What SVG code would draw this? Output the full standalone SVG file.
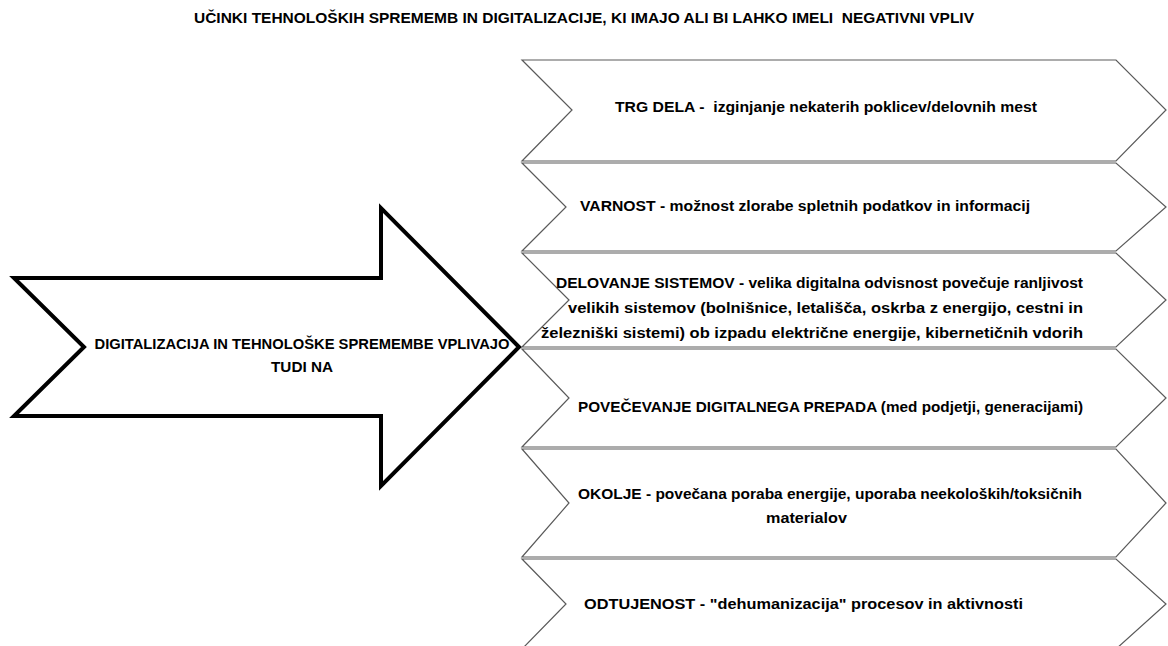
<svg xmlns="http://www.w3.org/2000/svg" width="1168" height="646" viewBox="0 0 1168 646">
<style>
  text { font-family: "Liberation Sans", Arial, sans-serif; font-weight: bold; font-size: 14px; fill: #000; white-space: pre; }
  .chev { fill: #fff; stroke: #5a5a5a; stroke-width: 1.2; stroke-linejoin: miter; }
  .big { fill: #fff; stroke: #000; stroke-width: 4; stroke-linejoin: miter; }
</style>
<rect width="1168" height="646" fill="#fff"/>
<g id="title">
  <text x="584" y="23" text-anchor="middle" textLength="780" lengthAdjust="spacingAndGlyphs" xml:space="preserve">UČINKI TEHNOLOŠKIH SPREMEMB IN DIGITALIZACIJE, KI IMAJO ALI BI LAHKO IMELI  NEGATIVNI VPLIV</text>
</g>
<g id="connectors"></g>
<g id="chevron1">
  <polygon class="chev" points="522,60 1116,60 1166,110 1116,161 522,161 572,110"/>
  <text x="615" y="112" textLength="422" lengthAdjust="spacingAndGlyphs" xml:space="preserve">TRG DELA -  izginjanje nekaterih poklicev/delovnih mest</text>
</g>
<g id="chevron2">
  <polygon class="chev" points="522,163 1116,163 1166,207 1116,251 522,251 566,207"/>
  <text x="580" y="211" textLength="450" lengthAdjust="spacingAndGlyphs">VARNOST - možnost zlorabe spletnih podatkov in informacij</text>
</g>
<g id="chevron3">
  <polygon class="chev" points="522,253 1116,253 1166,300 1116,347 522,347 569,300"/>
  <text x="1083" y="288" text-anchor="end" textLength="527" lengthAdjust="spacingAndGlyphs">DELOVANJE SISTEMOV - velika digitalna odvisnost povečuje ranljivost</text>
  <text x="1083" y="313" text-anchor="end" textLength="515" lengthAdjust="spacingAndGlyphs">velikih sistemov (bolnišnice, letališča, oskrba z energijo, cestni in</text>
  <text x="1083" y="338" text-anchor="end" textLength="542" lengthAdjust="spacingAndGlyphs">železniški sistemi) ob izpadu električne energije, kibernetičnih vdorih</text>
</g>
<g id="chevron4">
  <polygon class="chev" points="522,349 1116,349 1166,398 1116,447 522,447 569,398"/>
  <text x="578" y="412" textLength="505" lengthAdjust="spacingAndGlyphs">POVEČEVANJE DIGITALNEGA PREPADA (med podjetji, generacijami)</text>
</g>
<g id="chevron5">
  <polygon class="chev" points="522,449 1116,449 1166,503 1116,557 522,557 569,503"/>
  <text x="578" y="499" textLength="504" lengthAdjust="spacingAndGlyphs">OKOLJE - povečana poraba energije, uporaba neekoloških/toksičnih</text>
  <text x="766" y="523" textLength="81" lengthAdjust="spacingAndGlyphs">materialov</text>
</g>
<g id="chevron6">
  <polygon class="chev" points="522,559 1116,559 1166,604 1116,649 522,649 566,604"/>
  <text x="584" y="609" textLength="439" lengthAdjust="spacingAndGlyphs">ODTUJENOST - "dehumanizacija" procesov in aktivnosti</text>
</g>
<g id="main-arrow">
  <polygon class="big" points="14,278 381,278 381,208 519,347 381,486 381,416 14,416 84,347"/>
  <text x="302" y="349" text-anchor="middle" textLength="415" lengthAdjust="spacingAndGlyphs">DIGITALIZACIJA IN TEHNOLOŠKE SPREMEMBE VPLIVAJO</text>
  <text x="302" y="372" text-anchor="middle" textLength="62" lengthAdjust="spacingAndGlyphs">TUDI NA</text>
</g>
</svg>
